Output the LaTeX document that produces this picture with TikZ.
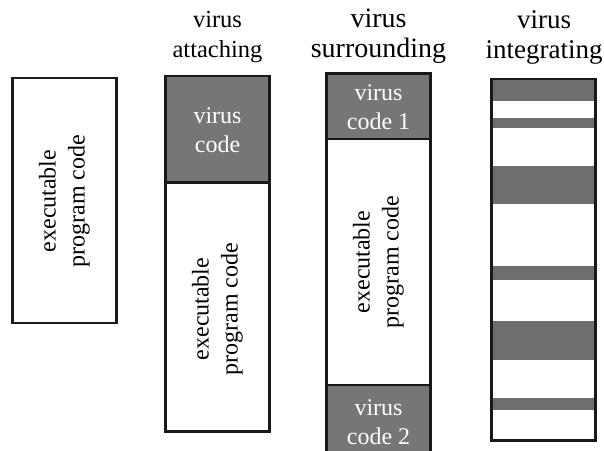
\documentclass[tikz,border=0pt]{standalone}
\usepackage{fontspec}
\setmainfont{Liberation Serif}
\definecolor{rim}{HTML}{1C1818}
\definecolor{virusgray}{HTML}{767676}
\definecolor{stripegray}{HTML}{6E6E6E}
\tikzset{
  rim/.style={draw=rim, line width=2.6pt},
  vfill/.style={fill=virusgray},
  stripe/.style={fill=stripegray},
  lbl/.style={font=\fontsize{24}{29}\selectfont, align=center, text=black, inner sep=0pt},
  wlbl/.style={lbl, text=white},
  rot/.style={lbl, rotate=90},
  head/.style={lbl, font=\fontsize{#1}{30}\selectfont},
}
\begin{document}
\begin{tikzpicture}[x=1pt,y=-1pt]
\useasboundingbox (0,0) rectangle (604,450);
\clip (0,0) rectangle (604,450);

% plain program
\draw[rim] (12.5,78) rectangle (116.5,323);
\node[rot] (exe1) at (64.5,201) {executable\\program code};

% virus attaching
\fill[vfill] (165.5,76) rectangle (269.5,182.5);
\draw[rim] (165.5,76) rectangle (269.5,431.5);
\draw[rim] (165.5,182.5) -- (269.5,182.5);
\node[wlbl] (vc) at (217.5,130) {virus\\code};
\node[rot] (exe2) at (217.5,309) {executable\\program code};
\node[head=24.5] (l2) at (217.5,37) {virus\\attaching};

% virus surrounding
\fill[vfill] (326.5,73.5) rectangle (430.5,139);
\fill[vfill] (326.5,385) rectangle (430.5,455);
\draw[rim] (326.5,455) -- (326.5,73.5) -- (430.5,73.5) -- (430.5,455);
\draw[rim] (326.5,139) -- (430.5,139);
\draw[rim] (326.5,385) -- (430.5,385);
\node[wlbl] (vc1) at (378.5,107) {virus\\code 1};
\node[rot] (exe3) at (378.5,262) {executable\\program code};
\node[wlbl] (vc2) at (378.5,422) {virus\\code 2};
\node[head=28] (l3) at (378.5,36.5) {virus\\surrounding};

% virus integrating
\foreach \a/\b in {79/101, 117.5/128, 166/204, 265.5/280, 321/359.5, 397.5/409.5}
  \fill[stripe] (491.5,\a) rectangle (595.5,\b);
\draw[rim] (491.5,79) rectangle (595.5,440.5);
\node[head=27] (l4) at (544,37) {virus\\integrating};
\end{tikzpicture}
\end{document}
